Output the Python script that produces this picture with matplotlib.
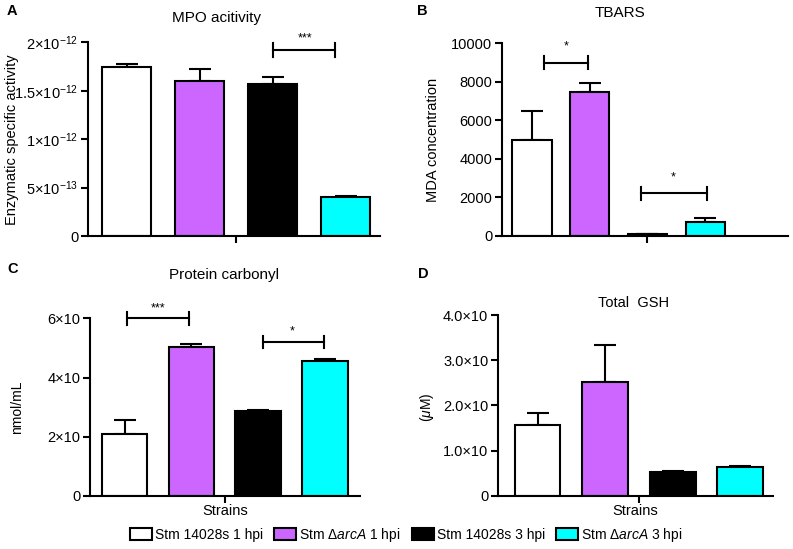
import matplotlib
matplotlib.use("Agg")
import matplotlib.pyplot as plt
from matplotlib.patches import Patch

plt.rcParams['font.family'] = ['Liberation Sans', 'DejaVu Sans']
plt.rcParams['mathtext.fontset'] = 'custom'
plt.rcParams['mathtext.rm'] = 'Liberation Sans'
plt.rcParams['mathtext.it'] = 'Liberation Sans:italic'
plt.rcParams['mathtext.bf'] = 'Liberation Sans:bold'

strains = ['Stm 14028s 1 hpi', r'Stm $\mathit{\Delta arcA}$ 1 hpi',
           'Stm 14028s 3 hpi', r'Stm $\mathit{\Delta arcA}$ 3 hpi']
colors = ['white', '#CC66FF', 'black', '#00FFFF']

# MPO activity
mpo = [1.742e-12, 1.598e-12, 1.574e-12, 0.399e-12]
mpo_err = [0.035e-12, 0.124e-12, 0.07e-12, 0.017e-12]
mpo_ticks = [0, 5e-13, 1e-12, 1.5e-12, 2e-12]
mpo_labels = ['0', r'$5{\times}10^{-13}$', r'$1{\times}10^{-12}$',
              r'$1.5{\times}10^{-12}$', r'$2{\times}10^{-12}$']
mpo_sig = [(2.01, 2.86, 1.92e-12, '***', 2.45, 2.04e-12)]

# TBARS
tbars = [4960, 7490, 70, 700]
tbars_err = [1520, 430, 0, 200]
tbars_ticks = [0, 2000, 4000, 6000, 8000, 10000]
tbars_sig = [(0.21, 0.97, 9000, '*', 0.6, 9850),
             (1.89, 3.03, 2200, '*', 2.44, 3000)]

# Protein carbonyl
carb = [2.1, 5.02, 2.875, 4.56]
carb_err = [0.46, 0.11, 0.02, 0.08]
carb_ticks = [0, 2, 4, 6]
carb_labels = ['0', '2×10', '4×10', '6×10']
carb_sig = [(0.04, 0.96, 6.0, '***', 0.5, 6.35),
            (2.07, 2.98, 5.2, '*', 2.51, 5.55)]

# Total GSH
gsh = [1.56, 2.51, 0.53, 0.63]
gsh_err = [0.27, 0.83, 0.02, 0.02]
gsh_ticks = [0, 1, 2, 3, 4]
gsh_labels = ['0', '1.0×10', '2.0×10', '3.0×10', '4.0×10']

W, H = 793, 549


def px(x, y):
    return x / W, 1 - y / H


def panel(rect, vals, errs, ticks, labels, xlim, xtick, sig, width=0.68):
    ax = fig.add_axes(rect)
    xs = list(range(len(vals)))
    ax.bar(xs, vals, width=width, color=colors, edgecolor='black',
           linewidth=1.5, zorder=2)
    ax.errorbar(xs, vals, yerr=[[0] * len(errs), errs], fmt='none',
                ecolor='black', elinewidth=1.5, capsize=8, capthick=1.5,
                zorder=1)
    ax.set_ylim(0, ticks[-1])
    ax.set_xlim(*xlim)
    ax.set_yticks(ticks)
    ax.set_yticklabels(labels if labels else [str(t) for t in ticks])
    ax.set_xticks([xtick])
    ax.set_xticklabels([''])
    for s in ['top', 'right']:
        ax.spines[s].set_visible(False)
    for s in ['left', 'bottom']:
        ax.spines[s].set_linewidth(1.5)
    ax.tick_params(axis='both', width=1.5, length=5, labelsize=10.5, pad=2)
    d = ticks[-1] * 0.035
    for x1, x2, y, txt, tx, ty in sig:
        ax.plot([x1, x2], [y, y], color='black', lw=1.5, clip_on=False)
        ax.plot([x1, x1], [y - d, y + d], color='black', lw=1.5, clip_on=False)
        ax.plot([x2, x2], [y - d, y + d], color='black', lw=1.5, clip_on=False)
        ax.text(tx, ty, txt, ha='center', va='center', fontsize=9,
                clip_on=False)
    return ax


fig = plt.figure(figsize=(7.93, 5.49), dpi=100)

axA = panel([0.111, 0.570, 0.368, 0.353], mpo, mpo_err, mpo_ticks, mpo_labels,
            (-0.53, 3.47), 1.5, mpo_sig)
axB = panel([0.633, 0.571, 0.361, 0.350], tbars, tbars_err, tbars_ticks, None,
            (-0.52, 4.44), 2.0, tbars_sig)
axC = panel([0.1135, 0.097, 0.340, 0.323], carb, carb_err, carb_ticks,
            carb_labels, (-0.52, 3.52), 1.5, carb_sig)
axD = panel([0.628, 0.097, 0.347, 0.329], gsh, gsh_err, gsh_ticks, gsh_labels,
            (-0.585, 3.49), 1.5, [])

for ax in (axC, axD):
    ax.set_xlabel('Strains', fontsize=10.5, labelpad=-1)

# titles
fig.text(*px(216, 18), 'MPO acitivity', ha='center', va='center', fontsize=11)
fig.text(*px(620, 13), 'TBARS', ha='center', va='center', fontsize=11)
fig.text(*px(224, 275), 'Protein carbonyl', ha='center', va='center', fontsize=11)
fig.text(*px(634, 303), 'Total  GSH', ha='center', va='center', fontsize=10.5)

# y labels
fig.text(*px(12, 140), 'Enzymatic specific activity', rotation=90,
         ha='center', va='center', fontsize=10.5)
fig.text(*px(433, 140), 'MDA concentration', rotation=90,
         ha='center', va='center', fontsize=10.5)
fig.text(*px(17, 407), 'nmol/mL', rotation=90,
         ha='center', va='center', fontsize=10)
fig.text(*px(427, 407), r'($\mu$M)', rotation=90,
         ha='center', va='center', fontsize=10)

# panel letters
for lab, (x, y) in zip('ABCD', [(12, 11), (422, 11), (13, 269), (423, 274)]):
    fig.text(*px(x, y), lab, ha='center', va='center', fontsize=10.5,
             fontweight='bold')

handles = [Patch(facecolor=c, edgecolor='black', linewidth=1.5) for c in colors]
fig.legend(handles, strains, loc='center', bbox_to_anchor=(0.512, 0.0255),
           ncol=4, frameon=False, fontsize=10, handlelength=1.6,
           handleheight=0.95, handletextpad=0.2, columnspacing=0.8,
           borderpad=0.2)

fig.savefig('out.png', dpi=100)
